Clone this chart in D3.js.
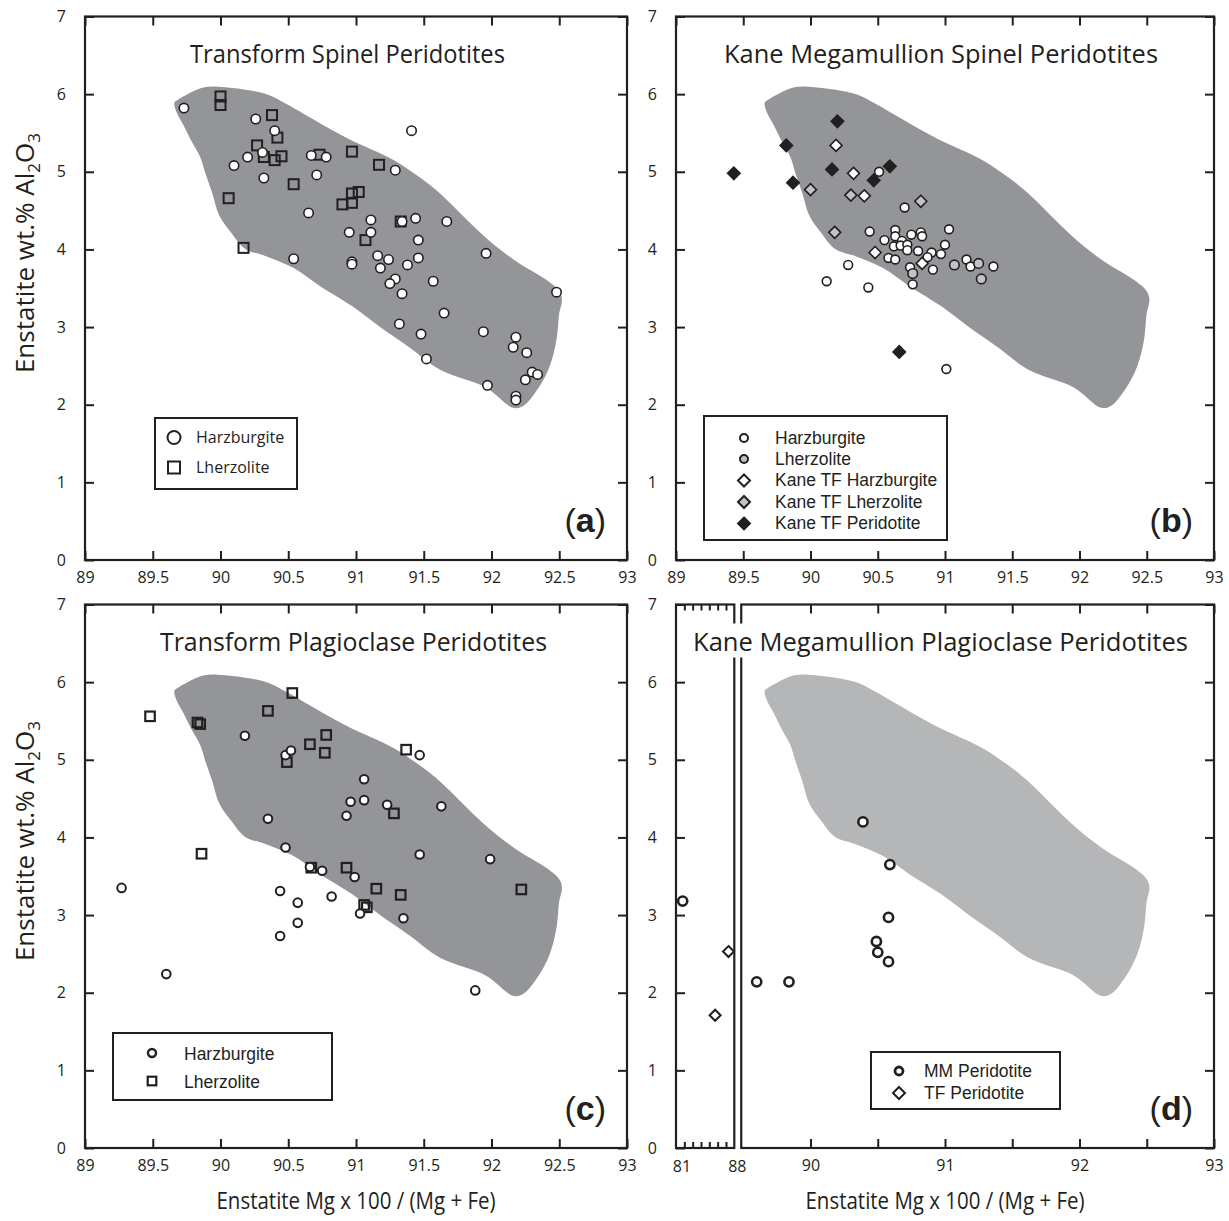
<!DOCTYPE html>
<html><head><meta charset="utf-8">
<script src="https://cdn.jsdelivr.net/npm/d3@7"></script>
<style>body{margin:0;background:#fff}</style>
</head><body><svg id="chart" width="1229" height="1221"></svg>
<script>
// ---------- data ----------
const xTicks = [89, 89.5, 90, 90.5, 91, 91.5, 92, 92.5, 93];
const yTicks = [0, 1, 2, 3, 4, 5, 6, 7];
const dLeftTicks = [81, 82, 83, 84, 85, 86, 87, 88];
const dLeftLabels = [81, 88];
const dRightTicks = [90, 90.5, 91, 91.5, 92, 92.5, 93];
const dRightLabels = [90, 91, 92, 93];

const titles = ["Transform Spinel Peridotites", "Kane Megamullion Spinel Peridotites",
                "Transform Plagioclase Peridotites", "Kane Megamullion Plagioclase Peridotites"];
const panelLetters = ["a", "b", "c", "d"];
const xAxisTitle = "Enstatite Mg x 100 / (Mg + Fe)";

// abyssal spinel peridotite field (Enstatite Mg#, Al2O3)
const fieldOutline = [
  [89.66,5.89],[89.67,5.79],[89.73,5.59],[89.79,5.38],[89.85,5.19],[89.89,4.97],[89.94,4.72],
  [89.99,4.44],[90.08,4.21],[90.18,4.01],[90.34,3.91],[90.54,3.76],[90.74,3.52],[90.97,3.27],
  [91.17,3.01],[91.40,2.73],[91.62,2.45],[91.96,2.22],[92.16,1.96],[92.23,1.98],[92.34,2.20],
  [92.43,2.50],[92.48,2.84],[92.50,3.18],[92.52,3.35],[92.50,3.46],[92.42,3.59],[92.17,3.86],
  [91.94,4.18],[91.62,4.72],[91.50,4.89],[91.28,5.15],[90.95,5.42],[90.74,5.62],[90.49,5.87],
  [90.34,6.00],[90.03,6.09],[89.88,6.09],[89.78,6.02],[89.68,5.92]
];

// (a) Transform spinel peridotites
const aHarzburgite = [
  [89.73,5.82],[90.26,5.68],[90.40,5.53],[90.20,5.19],[90.31,5.25],[90.10,5.08],[90.32,4.92],
  [90.67,5.21],[90.78,5.19],[90.71,4.96],[90.65,4.47],[91.41,5.53],[91.29,5.02],[91.11,4.38],
  [91.34,4.36],[91.44,4.40],[91.67,4.36],[90.95,4.22],[91.11,4.22],[91.46,4.12],[90.54,3.88],
  [90.97,3.84],[90.97,3.81],[91.16,3.92],[91.24,3.87],[91.18,3.76],[91.46,3.89],[91.38,3.80],
  [91.96,3.95],[91.29,3.62],[91.25,3.56],[91.57,3.59],[91.34,3.43],[92.48,3.45],[91.65,3.18],
  [91.32,3.04],[91.48,2.91],[91.94,2.94],[92.18,2.87],[92.16,2.74],[92.26,2.67],[91.52,2.59],
  [92.30,2.42],[92.34,2.39],[92.25,2.32],[91.97,2.25],[92.18,2.11],[92.18,2.06]
];
const aLherzolite = [
  [90.00,5.97],[90.00,5.86],[90.38,5.73],[90.42,5.44],[90.27,5.34],[90.32,5.19],[90.40,5.15],
  [90.45,5.20],[90.54,4.84],[90.06,4.66],[90.73,5.22],[90.97,5.26],[91.17,5.09],[90.97,4.72],
  [91.02,4.74],[90.90,4.58],[90.97,4.60],[91.33,4.36],[91.07,4.12],[90.17,4.02]
];

// (b) Kane Megamullion spinel peridotites
const bHarzburgite = [
  [90.51,5.00],[90.70,4.54],[90.44,4.23],[90.55,4.12],[90.63,4.25],[90.63,4.17],[90.68,4.11],
  [90.62,4.04],[90.67,4.05],[90.72,4.06],[90.72,3.99],[90.75,4.19],[90.82,4.22],[90.83,4.17],
  [90.80,3.98],[90.90,3.96],[90.97,3.94],[91.00,4.06],[91.03,4.26],[90.87,3.90],[90.58,3.89],
  [90.63,3.87],[90.74,3.77],[90.91,3.74],[91.16,3.87],[91.19,3.78],[91.36,3.78],[90.28,3.80],
  [90.12,3.59],[90.43,3.51],[90.76,3.55],[91.01,2.46]
];
const bLherzolite = [[90.76,3.69],[91.07,3.80],[91.25,3.82],[91.27,3.62]];
const bTFHarzburgite = [[90.19,5.34],[90.32,4.98],[90.40,4.69],[90.48,3.96],[90.83,3.82]];
const bTFLherzolite = [[90.00,4.77],[90.30,4.70],[90.82,4.62],[90.18,4.22]];
const bTFPeridotite = [[90.20,5.65],[89.82,5.34],[89.43,4.98],[90.16,5.03],[89.87,4.86],
                       [90.47,4.89],[90.59,5.07],[90.66,2.68]];

// (c) Transform plagioclase peridotites
const cHarzburgite = [
  [90.18,5.31],[90.48,5.06],[90.52,5.12],[91.47,5.06],[91.06,4.75],[90.96,4.46],[91.06,4.48],
  [91.23,4.42],[90.93,4.28],[91.63,4.40],[90.35,4.24],[90.48,3.87],[91.47,3.78],[91.99,3.72],
  [90.66,3.62],[90.75,3.57],[90.99,3.49],[89.27,3.35],[90.44,3.31],[90.57,3.16],[90.82,3.24],
  [91.03,3.02],[91.35,2.96],[90.57,2.90],[90.44,2.73],[89.60,2.24],[91.88,2.03]
];
const cLherzolite = [
  [89.48,5.56],[89.83,5.48],[89.85,5.46],[90.35,5.63],[90.53,5.86],[90.78,5.32],[90.66,5.20],
  [90.77,5.09],[90.49,4.97],[91.37,5.13],[91.28,4.31],[89.86,3.79],[90.93,3.61],[90.67,3.61],
  [91.15,3.34],[91.33,3.26],[91.06,3.13],[91.08,3.10],[92.22,3.33]
];

// (d) Kane Megamullion plagioclase peridotites (broken x axis)
const dMMLeft = [[81.8,3.18]];
const dMMRight = [[89.60,2.14],[89.84,2.14],[90.39,4.20],[90.59,3.65],[90.58,2.97],
                  [90.49,2.66],[90.50,2.52],[90.58,2.40]];
const dTFLeft = [[87.3,2.53],[85.7,1.71]];

// ---------- style / layout ----------
const INK = "#231f20", FIELD = "#939598", FIELD_LIGHT = "#b5b6b8", LIGHT = "#c2c3c5";
const MYR = "'Open Sans', 'Noto Sans', sans-serif";
const HEL = "'Liberation Sans', Arial, sans-serif";
const panels = [
  {x0:85,  x1:627,  y0:16.5, y1:560},
  {x0:676, x1:1214, y0:16.5, y1:560},
  {x0:85,  x1:627,  y0:604.5, y1:1148},
  {x0:676, x1:1214, y0:604.5, y1:1148}
];
const titleCenters = [347.5, 941, 353.5, 940.5];
const titleWidths = [315, 434, 387, 495];
const TICK = 9;

const svg = d3.select("#chart");
svg.append("rect").attr("width", 1229).attr("height", 1221).attr("fill", "#fff");

function styleAxis(g, labels) {
  g.select(".domain").remove();
  g.selectAll("line").attr("stroke", INK).attr("stroke-width", 2);
  g.attr("font-family", MYR).attr("font-size", 16);
  g.selectAll("text").attr("fill", INK);
  if (!labels) g.selectAll("text").remove();
}
function fieldPath(g, x, y, color) {
  g.append("path").datum(fieldOutline)
    .attr("d", d3.line().x(d => x(d[0])).y(d => y(d[1])).curve(d3.curveCatmullRomClosed.alpha(0.5)))
    .attr("fill", color);
}
function circles(g, data, x, y, r, fill, sw) {
  g.append("g").selectAll("circle").data(data).join("circle")
    .attr("cx", d => x(d[0])).attr("cy", d => y(d[1])).attr("r", r)
    .attr("fill", fill).attr("stroke", INK).attr("stroke-width", sw);
}
function squares(g, data, x, y, s, fill, sw) {
  g.append("g").selectAll("rect").data(data).join("rect")
    .attr("x", d => x(d[0]) - s / 2).attr("y", d => y(d[1]) - s / 2).attr("width", s).attr("height", s)
    .attr("fill", fill).attr("stroke", INK).attr("stroke-width", sw);
}
function diamondD(s) { return `M0,${-s}L${s},0L0,${s}L${-s},0Z`; }
function diamonds(g, data, x, y, s, fill, sw) {
  g.append("g").selectAll("path").data(data).join("path")
    .attr("transform", d => `translate(${x(d[0])},${y(d[1])})`).attr("d", diamondD(s))
    .attr("fill", fill).attr("stroke", INK).attr("stroke-width", sw).attr("stroke-linejoin", "miter");
}
function standardAxes(g, p, x, y) {
  g.append("g").attr("transform", `translate(0,${p.y1})`)
    .call(d3.axisBottom(x).tickValues(xTicks).tickSize(-TICK).tickPadding(12).tickFormat(d => String(d)))
    .call(a => styleAxis(a, true));
  g.append("g").attr("transform", `translate(0,${p.y0})`)
    .call(d3.axisTop(x).tickValues(xTicks).tickSize(-TICK)).call(a => styleAxis(a, false));
  g.append("g").attr("transform", `translate(${p.x0},0)`)
    .call(d3.axisLeft(y).tickValues(yTicks).tickSize(-TICK).tickPadding(19).tickFormat(d => String(d)))
    .call(a => styleAxis(a, true));
  g.append("g").attr("transform", `translate(${p.x1},0)`)
    .call(d3.axisRight(y).tickValues(yTicks).tickSize(-TICK)).call(a => styleAxis(a, false));
  g.append("rect").attr("x", p.x0).attr("y", p.y0).attr("width", p.x1 - p.x0).attr("height", p.y1 - p.y0)
    .attr("fill", "none").attr("stroke", INK).attr("stroke-width", 2.2);
}
function legend(g, box, items, symX, textX, font, size) {
  g.append("rect").attr("x", box[0]).attr("y", box[1]).attr("width", box[2]).attr("height", box[3])
    .attr("fill", "#fff").attr("stroke", INK).attr("stroke-width", 2);
  items.forEach(it => {
    const cy = it.cy;
    if (it.shape === "circle")
      g.append("circle").attr("cx", symX).attr("cy", cy).attr("r", it.r).attr("fill", it.fill)
        .attr("stroke", INK).attr("stroke-width", it.sw);
    else if (it.shape === "square")
      g.append("rect").attr("x", symX - it.r).attr("y", cy - it.r).attr("width", 2 * it.r).attr("height", 2 * it.r)
        .attr("fill", it.fill).attr("stroke", INK).attr("stroke-width", it.sw);
    else
      g.append("path").attr("transform", `translate(${symX},${cy})`).attr("d", diamondD(it.r))
        .attr("fill", it.fill).attr("stroke", INK).attr("stroke-width", it.sw);
    g.append("text").attr("x", textX).attr("y", it.base).text(it.label)
      .attr("font-family", font).attr("font-size", size).attr("fill", INK);
  });
}
function panelLetter(g, p, letter) {
  const t = g.append("text").attr("x", p.x1 - 21).attr("y", p.y1 - 28).attr("text-anchor", "end")
    .attr("font-family", HEL).attr("font-size", 34).attr("fill", INK);
  t.append("tspan").text("(");
  t.append("tspan").attr("font-weight", "bold").text(letter);
  t.append("tspan").text(")");
}

const titleNodes = [];
function panelTitle(g, p, i) {
  const t = g.append("text").attr("x", titleCenters[i]).attr("y", p.y0 + 46)
    .attr("text-anchor", "middle").attr("font-family", MYR).attr("font-size", 26).attr("fill", INK)
    .attr("textLength", titleWidths[i]).attr("lengthAdjust", "spacingAndGlyphs")
    .text(titles[i]);
  titleNodes.push({t, g});
}

// ---------- panels ----------
const scales = panels.map(p => ({
  x: d3.scaleLinear().domain([89, 93]).range([p.x0, p.x1]),
  y: d3.scaleLinear().domain([0, 7]).range([p.y1, p.y0])
}));

// (a)
{
  const p = panels[0], {x, y} = scales[0], g = svg.append("g");
  fieldPath(g, x, y, FIELD);
  standardAxes(g, p, x, y);
  squares(g, aLherzolite, x, y, 10, "none", 2);
  circles(g, aHarzburgite, x, y, 4.7, "#fff", 1.6);
  legend(g, [155, 418, 142, 71], [
    {shape:"circle", r:6.5, sw:2, fill:"#fff", cy:437.5, base:443, label:"Harzburgite"},
    {shape:"square", r:6, sw:2, fill:"#fff", cy:467.5, base:473, label:"Lherzolite"}
  ], 174, 196, MYR, 16);
  panelTitle(g, p, 0); panelLetter(g, p, panelLetters[0]);
}
// (b)
{
  const p = panels[1], {x, y} = scales[1], g = svg.append("g");
  fieldPath(g, x, y, FIELD);
  standardAxes(g, p, x, y);
  circles(g, bHarzburgite, x, y, 4.4, "#fff", 1.6);
  circles(g, bLherzolite, x, y, 4.8, LIGHT, 1.6);
  diamonds(g, bTFLherzolite, x, y, 6, LIGHT, 1.6);
  diamonds(g, bTFHarzburgite, x, y, 6, "#fff", 1.6);
  diamonds(g, bTFPeridotite, x, y, 6.5, INK, 1.2);
  legend(g, [704, 416, 243, 124], [
    {shape:"circle", r:4, sw:2, fill:"#fff", cy:438, base:443.5, label:"Harzburgite"},
    {shape:"circle", r:4, sw:2, fill:LIGHT, cy:459, base:464.5, label:"Lherzolite"},
    {shape:"diamond", r:6, sw:2, fill:"#fff", cy:480.5, base:486, label:"Kane TF Harzburgite"},
    {shape:"diamond", r:6, sw:2, fill:LIGHT, cy:502, base:507.5, label:"Kane TF Lherzolite"},
    {shape:"diamond", r:6.5, sw:1.2, fill:INK, cy:523.5, base:529, label:"Kane TF Peridotite"}
  ], 744, 775, HEL, 17.5);
  panelTitle(g, p, 1); panelLetter(g, p, panelLetters[1]);
}
// (c)
{
  const p = panels[2], {x, y} = scales[2], g = svg.append("g");
  fieldPath(g, x, y, FIELD);
  standardAxes(g, p, x, y);
  squares(g, cLherzolite, x, y, 9.5, "none", 2.2);
  circles(g, cHarzburgite, x, y, 4.3, "#fff", 2);
  legend(g, [113, 1033, 219, 67], [
    {shape:"circle", r:4, sw:2.4, fill:"#fff", cy:1053, base:1059.5, label:"Harzburgite"},
    {shape:"square", r:4.3, sw:2.2, fill:"#fff", cy:1081, base:1087.5, label:"Lherzolite"}
  ], 152, 184, HEL, 17.5);
  panelTitle(g, p, 2); panelLetter(g, p, panelLetters[2]);
}
// (d) broken axis
{
  const p = panels[3], g = svg.append("g");
  const {x, y} = scales[3];
  const xl = d3.scaleLinear().domain([81, 88]).range([676, 734.3]);
  const rightX0 = x(89.485);
  fieldPath(g, x, y, FIELD_LIGHT);
  g.append("g").attr("transform", `translate(0,${p.y1})`)
    .call(d3.axisBottom(xl).tickValues(dLeftTicks.slice(1, -1)).tickSize(-6)).call(a => styleAxis(a, false));
  g.append("g").attr("transform", `translate(0,${p.y0})`)
    .call(d3.axisTop(xl).tickValues(dLeftTicks.slice(1, -1)).tickSize(-6)).call(a => styleAxis(a, false));
  g.append("g").attr("transform", `translate(${p.x0},0)`)
    .call(d3.axisLeft(y).tickValues(yTicks).tickSize(-TICK).tickPadding(19).tickFormat(d => String(d)))
    .call(a => styleAxis(a, true));
  g.append("g").selectAll("text").data(dLeftLabels).join("text")
    .attr("x", (d, i) => xl(d) + (i === 0 ? 6 : 3)).attr("y", p.y1 + 23.5).attr("text-anchor", "middle")
    .attr("font-family", MYR).attr("font-size", 16).attr("fill", INK).text(d => String(d));
  g.append("g").attr("transform", `translate(0,${p.y1})`)
    .call(d3.axisBottom(x).tickValues(dRightTicks).tickSize(-TICK).tickPadding(12)
      .tickFormat(d => dRightLabels.includes(d) ? String(d) : ""))
    .call(a => styleAxis(a, true));
  g.append("g").attr("transform", `translate(0,${p.y0})`)
    .call(d3.axisTop(x).tickValues(dRightTicks).tickSize(-TICK)).call(a => styleAxis(a, false));
  g.append("g").attr("transform", `translate(${p.x1},0)`)
    .call(d3.axisRight(y).tickValues(yTicks).tickSize(-TICK)).call(a => styleAxis(a, false));
  g.append("rect").attr("x", xl(81)).attr("y", p.y0).attr("width", xl(88) - xl(81)).attr("height", p.y1 - p.y0)
    .attr("fill", "none").attr("stroke", INK).attr("stroke-width", 2.2);
  g.append("rect").attr("x", rightX0).attr("y", p.y0).attr("width", p.x1 - rightX0).attr("height", p.y1 - p.y0)
    .attr("fill", "none").attr("stroke", INK).attr("stroke-width", 2.2);
  circles(g, dMMLeft, xl, y, 4.6, "#fff", 2.6);
  circles(g, dMMRight, x, y, 4.6, "#fff", 2.6);
  diamonds(g, dTFLeft, xl, y, 5.5, "#fff", 2);
  legend(g, [871, 1052, 189, 57], [
    {shape:"circle", r:4, sw:2.8, fill:"#fff", cy:1071, base:1077, label:"MM Peridotite"},
    {shape:"diamond", r:6, sw:2, fill:"#fff", cy:1093, base:1099, label:"TF Peridotite"}
  ], 899, 924, HEL, 17.5);
  panelTitle(g, p, 3); panelLetter(g, p, panelLetters[3]);
}

// white backing under the titles (covers the broken-axis frame in panel d)
titleNodes.forEach(({t, g}) => {
  const b = t.node().getBBox();
  g.insert("rect", () => t.node()).attr("x", b.x - 3).attr("y", b.y + 1).attr("width", b.width + 6)
    .attr("height", b.height - 2).attr("fill", "#fff");
});

// axis titles
function yTitle(cx, cy) {
  const t = svg.append("text").attr("transform", `translate(${cx},${cy}) rotate(-90)`)
    .attr("text-anchor", "middle").attr("font-family", MYR).attr("font-size", 26).attr("fill", INK);
  t.append("tspan").text("Enstatite wt.% Al");
  t.append("tspan").attr("font-size", 17).attr("dy", 6).text("2");
  t.append("tspan").attr("dy", -6).text("O");
  t.append("tspan").attr("font-size", 17).attr("dy", 6).text("3");
  return t;
}
yTitle(34, 253);
yTitle(34, 841);
[356, 945].forEach(cx => {
  const t = svg.append("text").attr("x", cx).attr("y", 1209).attr("text-anchor", "middle")
    .attr("font-family", MYR).attr("font-size", 24).attr("fill", INK)
    .attr("textLength", 279).attr("lengthAdjust", "spacingAndGlyphs").text(xAxisTitle);
});
</script></body></html>
